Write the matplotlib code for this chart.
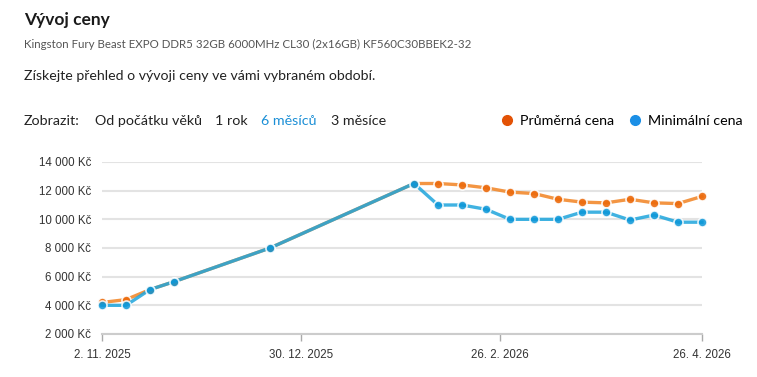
import matplotlib
matplotlib.use("Agg")
from matplotlib import pyplot as plt
from matplotlib.lines import Line2D
import numpy as np

# data
dates = np.array(["2025-11-02", "2025-11-09", "2025-11-16", "2025-11-23", "2025-12-21",
                  "2026-02-01", "2026-02-08", "2026-02-15", "2026-02-22", "2026-03-01",
                  "2026-03-08", "2026-03-15", "2026-03-22", "2026-03-29", "2026-04-05",
                  "2026-04-12", "2026-04-19", "2026-04-26"], dtype="datetime64[D]")
avg_price = [4200, 4400, 5100, 5650, 8000, 12500, 12500, 12400, 12200, 11900,
             11800, 11400, 11200, 11150, 11400, 11150, 11100, 11600]
min_price = [4000, 4000, 5100, 5650, 8000, 12500, 11000, 11000, 10700, 10000,
             10000, 10000, 10500, 10500, 9950, 10300, 9800, 9800]
xticks = np.array(["2025-11-02", "2025-12-30", "2026-02-26", "2026-04-26"], dtype="datetime64[D]")
xtick_labels = ["2. 11. 2025", "30. 12. 2025", "26. 2. 2026", "26. 4. 2026"]
yticks = [2000, 4000, 6000, 8000, 10000, 12000, 14000]

orange_line = "#f28a2e"
orange_dot = "#ec6a0c"
blue_line = "#1ea5dc"
blue_dot = "#0a96d8"

plt.rcParams["font.family"] = ["Lato", "DejaVu Sans"]

fig = plt.figure(figsize=(7.57, 3.77), dpi=100)
ax = fig.add_axes([102 / 757, 43 / 377, 600 / 757, 172 / 377])

x = dates.astype("datetime64[ms]").astype(object)
ax.plot(x, avg_price, color=orange_line, lw=2.4, alpha=0.9, zorder=3,
        marker="o", ms=6.5, mfc=orange_dot, mec="white", mew=1.2, clip_on=False)
ax.plot(x, min_price, color=blue_line, lw=2.4, alpha=0.85, zorder=4,
        marker="o", ms=6.5, mfc=blue_dot, mec="white", mew=1.2, clip_on=False)

ax.set_xlim(np.datetime64("2025-11-02").astype(object), np.datetime64("2026-04-26").astype(object))
ax.set_ylim(2000, 14000)
ax.set_xticks(xticks.astype(object))
ax.set_xticklabels(xtick_labels, family="Liberation Sans", fontsize=8.3, color="#333333")
ax.set_yticks(yticks)
ax.set_yticklabels([f"{v:,} Kč".replace(",", " ") for v in yticks],
                   family="Liberation Sans", fontsize=8.3, color="#333333")
ax.tick_params(axis="y", length=0, pad=8)
ax.tick_params(axis="x", length=5, width=1, color="#aaaaaa", pad=6)
ax.grid(axis="y", color="#e3e3e3", lw=1.5)
ax.set_axisbelow(True)
for s in ["top", "right", "left"]:
    ax.spines[s].set_visible(False)
ax.spines["bottom"].set_color("#cccccc")
ax.spines["bottom"].set_linewidth(1.5)

# header texts
fig.text(24 / 757, 1 - 20 / 377, "Vývoj ceny", fontsize=12.5, fontweight="bold",
         color="#1a1a1a", va="center")
fig.text(24 / 757, 1 - 44 / 377, "Kingston Fury Beast EXPO DDR5 32GB 6000MHz CL30 (2x16GB) KF560C30BBEK2-32",
         fontsize=8.3, color="#555555", va="center")
fig.text(24 / 757, 1 - 76 / 377, "Získejte přehled o vývoji ceny ve vámi vybraném období.",
         fontsize=10.2, color="#222222", va="center")

row_y = 1 - 121 / 377
fig.text(24 / 757, row_y, "Zobrazit:", fontsize=10.3, color="#222222", va="center")
fig.text(95 / 757, row_y, "Od počátku věků", fontsize=10.3, color="#222222", va="center")
fig.text(215 / 757, row_y, "1 rok", fontsize=10.3, color="#222222", va="center")
fig.text(261 / 757, row_y, "6 měsíců", fontsize=10.3, color="#1b8fd6", va="center")
fig.text(331 / 757, row_y, "3 měsíce", fontsize=10.3, color="#222222", va="center")

# legend
handles = [Line2D([], [], ls="", marker="o", ms=7, mfc="#e35205", mec="#e35205"),
           Line2D([], [], ls="", marker="o", ms=7, mfc="#1b8fe6", mec="#1b8fe6")]
fig.legend(handles, ["Průměrná cena", "Minimální cena"], ncol=2, frameon=False,
           loc="center right", bbox_to_anchor=(750 / 757, row_y), fontsize=10.3,
           handletextpad=0.4, columnspacing=1.0, handlelength=1.0, borderpad=0)

fig.savefig("out.png", dpi=100)
